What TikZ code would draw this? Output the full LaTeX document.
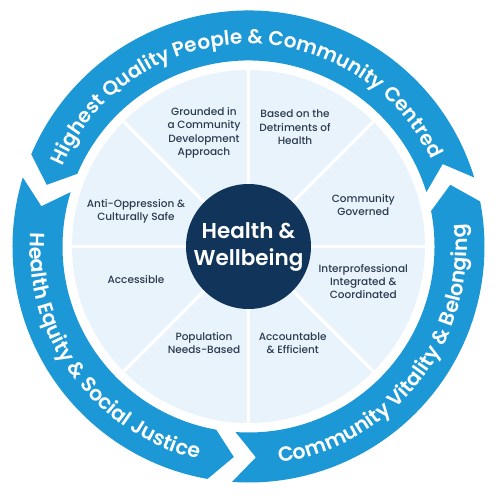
\documentclass[tikz,border=0pt]{standalone}
\usepackage{fontspec}
\setmainfont{Poppins}
\newfontfamily\ringfont{Poppins SemiBold}
\newfontfamily\labfont{Poppins Medium}
\usetikzlibrary{decorations.text}
\definecolor{ringblue}{HTML}{1B98D5}
\definecolor{navy}{HTML}{11355A}
\definecolor{lightbg}{HTML}{E9F3FB}
\definecolor{labcol}{HTML}{2A3B4F}
\begin{document}
\begin{tikzpicture}[x=1pt,y=1pt,
  ringseg/.style={fill=ringblue, draw=none},
  divider/.style={draw=white, line width=3.5pt},
  lab/.style={font=\labfont\fontsize{10.5}{13.3}\selectfont, text=labcol, align=center, inner sep=0pt}]
\useasboundingbox (-248.5,-253.5) rectangle (251.5,246.5);
\coordinate (c) at (0,0);
\node[circle, fill=lightbg, minimum size=353pt, inner sep=0pt] (disc) at (c) {};
\foreach \a in {0,45,...,315} \draw[divider] (c) -- (disc.\a);
\node[circle, fill=navy, minimum size=125pt, inner sep=0pt, text=white, align=center,
  font=\ringfont\fontsize{21.5}{27}\selectfont] (hw) at (c) {Health \&\\Wellbeing};
% ring arrows
\fill[ringseg] (17:236pt) arc[start angle=17, end angle=157, radius=236pt] -- (163:211pt) -- (157:186pt) arc[start angle=157, end angle=17, radius=186pt] -- (23:211pt) -- cycle;
\fill[ringseg] (163:236pt) arc[start angle=163, end angle=260, radius=236pt] -- (266:211pt) -- (260:186pt) arc[start angle=260, end angle=163, radius=186pt] -- (169:211pt) -- cycle;
\fill[ringseg] (266:236pt) arc[start angle=266, end angle=371, radius=236pt] -- (377:211pt) -- (371:186pt) arc[start angle=371, end angle=266, radius=186pt] -- (272:211pt) -- cycle;
% ring texts
\path[decorate, decoration={text along path, text align=center, text color=white,
  text={|\ringfont\fontsize{20}{20}\selectfont|Highest Quality People {\&} Community Centred}}]
  (161:202.5pt) arc[start angle=161, end angle=21, radius=202.5pt];
\path[decorate, decoration={text along path, text align=center, text color=white,
  text={|\ringfont\fontsize{20.5}{20}\selectfont|Health Equity {\&} Social Justice}}]
  (161.5:218.5pt) arc[start angle=161.5, end angle=271.5, radius=218.5pt];
\path[decorate, decoration={text along path, text align=center, text color=white,
  text={|\ringfont\fontsize{20.5}{20}\selectfont|Community Vitality {\&} Belonging}}]
  (267:218.5pt) arc[start angle=267, end angle=377, radius=218.5pt];
% sector labels
\node[lab] (s1) at (-44.5,113.8) {Grounded in\\a Community\\Development\\Approach};
\node[lab] (s2) at (46.5,119.2) {Based on the\\Detriments of\\Health};
\node[lab] (s3) at (114.8,41.8) {Community\\Governed};
\node[lab] (s4) at (114.8,-35) {Interprofessional\\Integrated \&\\Coordinated};
\node[lab] (s5) at (44.2,-96.5) {Accountable\\\& Efficient};
\node[lab] (s6) at (-44.5,-96.5) {Population\\Needs-Based};
\node[lab] (s7) at (-112.5,-32.8) {Accessible};
\node[lab] (s8) at (-112.5,35.2) {Anti-Oppression \&\\Culturally Safe};
\end{tikzpicture}
\end{document}
